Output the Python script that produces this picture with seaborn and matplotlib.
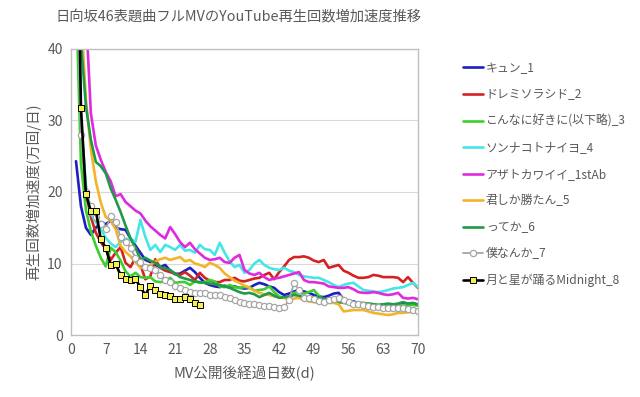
import matplotlib
matplotlib.use("Agg")
import matplotlib.pyplot as plt
import seaborn as sns
import pandas as pd

# 日向坂46 表題曲フルMV 再生回数増加速度 (万回/日), MV公開後1日目から
kyun_1 = [24.3, 18, 15, 14, 15, 15.8, 15.5, 16, 15, 14.8, 14.7, 13.5, 12.5, 11.5, 10.5, 10.2, 9.8, 9.5, 9.8, 9.0,
          8.5, 8.6, 9.0, 9.4, 8.8, 8.0, 7.3, 7.0, 6.8, 6.7, 6.9, 6.7, 6.8, 6.6, 6.5, 6.6, 7.0, 7.3, 7.1, 6.8,
          6.6, 6.0, 5.6, 5.8, 6.1, 6.3, 6.1, 5.9, 5.6, 5.4, 5.3, 5.5, 5.8, 5.9, 5.0, 4.6, 4.7, 4.5, 4.4, 4.3,
          4.2, 4.1, 4.0, 3.9, 4.0, 4.3, 4.5, 4.4, 4.3, 4.2]
doremi_2 = [55, 30, 20, 16.5, 14.3, 13, 12, 10.5, 11.5, 12.3, 10.1, 9.5, 10.8, 9.8, 7.8, 8.2, 10.6, 9.4, 9.0, 8.8,
            8.6, 8.4, 8.8, 8.3, 7.7, 8.7, 8.0, 7.6, 7.4, 7.4, 7.7, 7.7, 8.0, 7.6, 7.5, 7.7, 7.9, 8.0, 8.4, 8.7,
            7.8, 8.8, 9.6, 10.5, 10.9, 10.9, 11.0, 10.8, 10.4, 10.2, 10.5, 9.4, 9.6, 9.8, 9.0, 8.7, 8.3, 8.0, 8.0, 8.1,
            8.4, 8.3, 8.1, 8.1, 8.1, 8.0, 7.4, 8.1, 7.3, 6.6]
konnani_3 = [48, 24, 17.5, 14.5, 12.5, 10.8, 9.6, 12.2, 11.6, 10.4, 8.9, 8.2, 8.7, 8.1, 8.0, 8.1, 7.5, 7.4, 7.5, 8.0,
             7.3, 7.4, 7.4, 7.0, 7.5, 7.3, 7.4, 7.7, 7.5, 6.8, 6.7, 7.0, 6.7, 6.6, 6.7, 6.7, 6.2, 6.3, 6.4, 6.8,
             6.0, 5.4, 5.2, 5.3, 5.9, 6.0, 5.8, 6.0, 6.3, 5.5, 5.0, 4.6, 4.6, 4.5, 4.6, 4.5, 4.6, 4.5, 4.5, 4.4,
             4.3, 4.2, 4.3, 4.2, 4.2, 4.3, 4.1, 4.2, 4.2, 4.1]
sonna_4 = [60, 30, 21, 17, 15.8, 14.8, 13.6, 12.8, 12.3, 13, 13.4, 13.5, 13, 16.1, 13.7, 11.9, 12.6, 11.6, 12.6, 12.3,
           11.9, 12.6, 11.8, 11.9, 11.5, 12.6, 12.0, 11.9, 11.2, 12.9, 11.5, 10.3, 9.5, 9.8, 8.7, 9.1, 10.0, 10.5, 9.8, 9.4,
           9.2, 9.1, 9.4, 9.0, 8.8, 8.4, 8.2, 8.1, 8.0, 8.0, 7.7, 7.4, 7.0, 6.7, 7.0, 7.2, 7.3, 6.8, 6.3, 6.2,
           6.1, 6.0, 6.1, 6.3, 6.5, 6.6, 6.7, 7.0, 7.3, 6.7]
azato_1st = [90, 65, 45, 31, 26.5, 24.5, 22.8, 21.5, 19.4, 19.7, 18.6, 18.0, 17.4, 17.0, 16.0, 15.2, 14.6, 14.0, 13.5, 15.1,
             14.1, 13.0, 12.3, 12.9, 12.0, 11.4, 10.8, 10.5, 10.6, 10.8, 10.2, 10.1, 10.8, 11.2, 9.1, 8.6, 8.4, 8.7, 8.1, 7.7,
             7.9, 8.0, 8.2, 8.4, 8.6, 8.8, 7.7, 7.4, 7.4, 7.3, 7.2, 6.8, 6.7, 6.6, 6.6, 6.7, 6.4, 6.0, 5.9, 5.9,
             6.0, 5.9, 5.7, 5.6, 5.7, 5.9, 5.2, 5.1, 5.2, 5.0]
kimishika_5 = [80, 45, 33, 26, 21.5, 18.5, 16.5, 16.0, 14.8, 12.5, 11.6, 11.0, 10.2, 9.4, 9.4, 9.8, 10.3, 10.6, 10.8, 10.5,
               10.7, 10.9, 10.3, 10.5, 10.0, 9.8, 9.5, 10.1, 9.8, 9.4, 8.6, 8.1, 7.6, 7.3, 6.9, 6.6, 6.2, 5.9, 5.7, 5.6,
               5.4, 5.3, 5.2, 5.0, 5.1, 5.2, 4.9, 4.7, 4.6, 4.5, 4.5, 4.5, 4.5, 4.3, 3.3, 3.4, 3.5, 3.5, 3.5, 3.3,
               3.1, 3.0, 2.9, 2.8, 2.9, 3.1, 3.1, 3.2, 3.2, 3.2]
tteka_6 = [70, 41, 32, 27.3, 24.2, 23.6, 22.6, 20.5, 18.9, 17.2, 15.3, 13.5, 12.2, 10.6, 10.8, 10.4, 10.1, 9.5, 9.3, 9.1,
           8.6, 8.1, 7.9, 7.7, 7.5, 7.4, 7.3, 7.2, 7.1, 7.0, 6.8, 6.6, 6.3, 6.0, 5.8, 5.9, 5.7, 5.3, 5.6, 5.9,
           5.5, 5.2, 5.3, 5.4, 5.6, 5.5, 5.3, 5.3, 5.2, 5.3, 5.1, 4.9, 4.9, 4.7, 4.5, 4.4, 4.5, 4.4, 4.3, 4.4,
           4.3, 4.2, 4.3, 4.4, 4.3, 4.4, 4.6, 4.4, 4.5, 4.3]
bokunanka_7 = [55, 28, 20, 18, 16.5, 15.5, 14.8, 16.6, 15.8, 13.7, 13.0, 12.2, 10.8, 10.2, 9.5, 9.4, 9.1, 8.4, 7.7, 7.4,
               6.9, 6.6, 6.3, 6.0, 5.9, 5.9, 5.9, 5.6, 5.6, 5.6, 5.3, 5.2, 4.9, 4.6, 4.5, 4.4, 4.3, 4.2, 4.1, 4.0,
               3.9, 3.8, 3.9, 4.9, 7.3, 6.3, 5.2, 5.2, 5.1, 4.8, 4.6, 4.9, 5.0, 5.2, 4.9, 4.6, 4.4, 4.3, 4.2, 4.0,
               3.9, 3.9, 3.8, 3.8, 3.8, 3.8, 3.8, 3.7, 3.5, 3.4]
midnight_8 = [73, 31.7, 19.7, 17.3, 17.4, 13.4, 12.2, 9.8, 9.9, 8.4, 7.8, 7.7, 7.8, 6.7, 5.6, 6.9, 6.3, 5.7, 5.6, 5.5,
              5.0, 5.0, 5.3, 5.0, 4.5, 4.2]

names = ["キュン_1", "ドレミソラシド_2", "こんなに好きに(以下略)_3", "ソンナコトナイヨ_4",
         "アザトカワイイ_1stAb", "君しか勝たん_5", "ってか_6", "僕なんか_7", "月と星が踊るMidnight_8"]
series = [kyun_1, doremi_2, konnani_3, sonna_4, azato_1st, kimishika_5, tteka_6, bokunanka_7, midnight_8]
colors = ["#1f1fbf", "#d42222", "#3ccf2e", "#45e6e6", "#e02ae0", "#f2b42a", "#1f9a48", "#a6a6a6", "#000000"]

x_ticks = list(range(0, 71, 7))
y_ticks = [0, 10, 20, 30, 40]

sns.set_style("white")
plt.rcParams["font.family"] = ["Noto Sans CJK JP", "DejaVu Sans"]
txt = "#595959"

fig = plt.figure(figsize=(6.4, 3.97), dpi=100)
ax = fig.add_axes([0.111, 0.156, 0.542, 0.721])

for name, vals, col in zip(names, series, colors):
    d = pd.DataFrame({"day": range(1, len(vals) + 1), "v": vals})
    kw = dict(color=col, linewidth=1.9)
    if name == "僕なんか_7":
        kw.update(marker="o", markersize=4.5, markerfacecolor="white", markeredgecolor="#a6a6a6",
                  markeredgewidth=0.9, linewidth=1.3)
    elif name == "月と星が踊るMidnight_8":
        kw.update(marker="s", markersize=4.5, markerfacecolor="#f5f050", markeredgecolor="black",
                  markeredgewidth=0.7)
    sns.lineplot(data=d, x="day", y="v", ax=ax, label=name, **kw)

ax.set_xlim(0, 70)
ax.set_ylim(0, 40)
ax.set_xticks(x_ticks)
ax.set_yticks(y_ticks)
ax.yaxis.grid(True, color="#d9d9d9", linewidth=0.8)
ax.xaxis.grid(False)
for s in ax.spines.values():
    s.set_color("#bfbfbf")
    s.set_linewidth(1.0)
ax.tick_params(axis="x", direction="in", length=4, color="#bfbfbf", labelsize=10, labelcolor=txt, pad=6)
ax.tick_params(axis="y", length=0, labelsize=10, labelcolor=txt, pad=6)

ax.set_xlabel("MV公開後経過日数(d)", fontsize=10.5, color=txt, labelpad=6)
ax.set_ylabel("再生回数増加速度(万回/日)", fontsize=10.5, color=txt, labelpad=4)
fig.text(0.372, 0.955, "日向坂46表題曲フルMVのYouTube再生回数増加速度推移",
         ha="center", va="center", fontsize=10.3, color=txt)

leg = ax.legend(loc="upper left", bbox_to_anchor=(0.716, 0.857), bbox_transform=fig.transFigure,
                frameon=False, fontsize=8.6, handlelength=1.7, handletextpad=0.2, labelspacing=1.13,
                borderaxespad=0)
for t in leg.get_texts():
    t.set_color(txt)

fig.savefig("out.png", dpi=100)
